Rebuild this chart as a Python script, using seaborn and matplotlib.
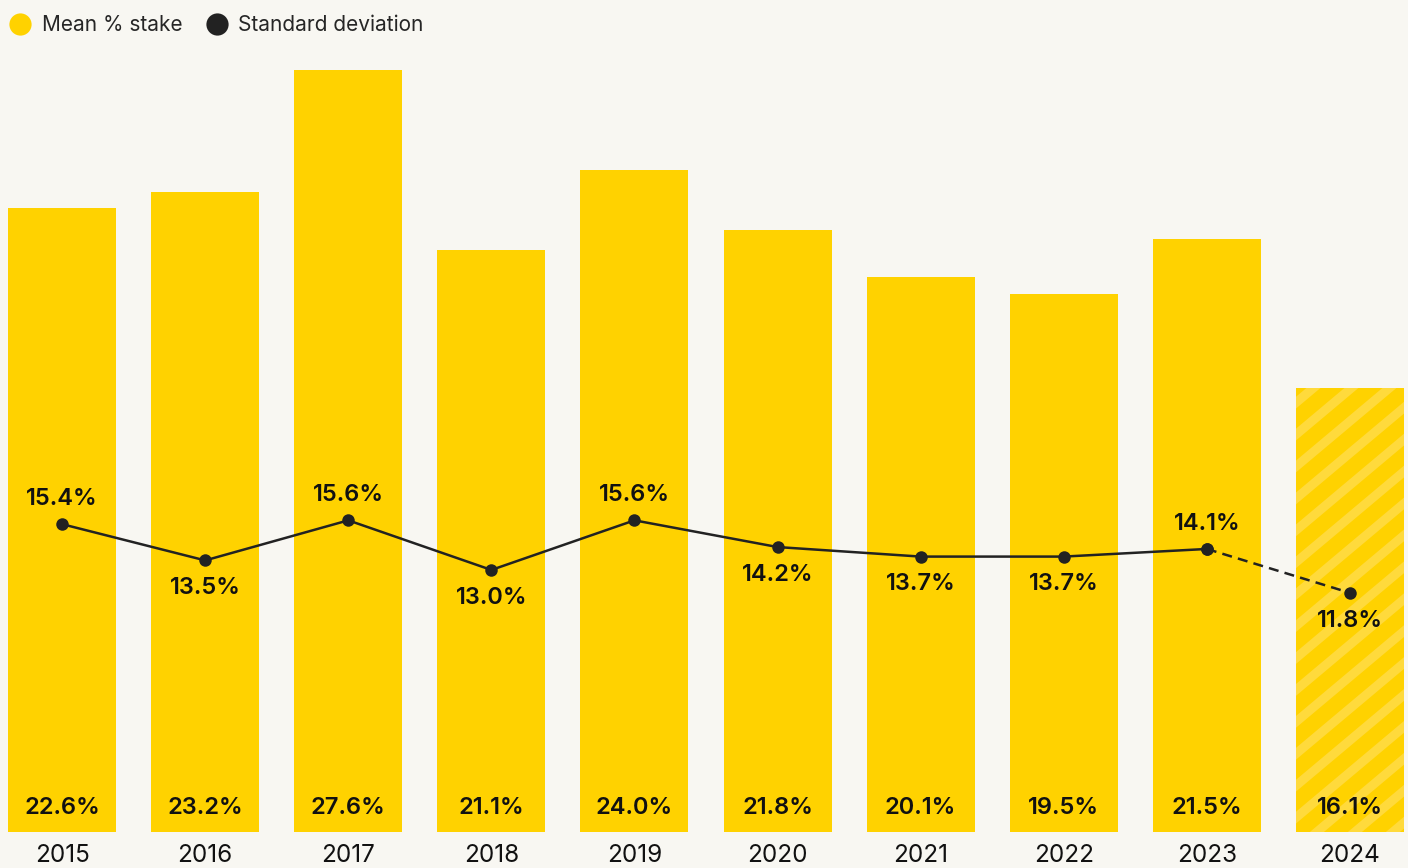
import numpy as np
import pandas as pd
import matplotlib
matplotlib.use("Agg")
import matplotlib.pyplot as plt
from matplotlib.lines import Line2D
from matplotlib.transforms import IdentityTransform
import seaborn as sns

years = ["2015", "2016", "2017", "2018", "2019", "2020", "2021", "2022", "2023", "2024"]
mean_stake = [22.6, 23.2, 27.6, 21.1, 24.0, 21.8, 20.1, 19.5, 21.5, 16.1]
std_dev = [15.4, 13.5, 15.6, 13.0, 15.6, 14.2, 13.7, 13.7, 14.1, 11.8]
label_above = [True, False, True, False, True, False, False, False, True, False]

BG = "#F8F7F2"
YELLOW = "#FFD200"
STRIPE = "#FFDA3C"
DARK = "#222222"

sns.set_theme(style="white")
plt.rcParams["font.family"] = ["Inter", "DejaVu Sans"]

df = pd.DataFrame({"year": years, "mean": mean_stake, "std": std_dev})

fig = plt.figure(figsize=(14.08, 8.68), dpi=100, facecolor=BG)
ax = fig.add_axes([8 / 1408, 36 / 868, 1396 / 1408, 782 / 868])
ax.set_facecolor(BG)

sns.barplot(data=df, x="year", y="mean", order=years, color=YELLOW,
            width=0.755, saturation=1, ax=ax, errorbar=None)
for p in ax.patches:
    p.set_linewidth(0)
    p.set_edgecolor(YELLOW)

ax.set_xlim(-0.378, 9.378)
ax.set_ylim(0, 28.33)

# diagonal stripes on the provisional (last) bar, clipped to the bar
last_bar = ax.patches[len(years) - 1]
for c in np.arange(-1500, 1500, 38):
    ln = Line2D([c, c + 2000], [0, 2000 * 0.84], transform=IdentityTransform(),
                color=STRIPE, linewidth=6.5, solid_capstyle="butt", zorder=2.5)
    ax.add_line(ln)
    ln.set_clip_path(last_bar)

for s in ax.spines.values():
    s.set_visible(False)
ax.set_yticks([])
ax.set_xlabel("")
ax.set_ylabel("")
ax.tick_params(axis="x", length=0, pad=9, labelsize=17.5, labelcolor="#111111")

for i, v in enumerate(mean_stake):
    ax.annotate(f"{v:.1f}%", (i, 0), xytext=(0, 17), textcoords="offset points",
                ha="center", va="center", fontsize=17, fontweight="semibold",
                color="#111111", zorder=5)

ax2 = ax.twinx()
ax2.set_ylim(-0.734, 40.25)
ax2.set_yticks([])
for s in ax2.spines.values():
    s.set_visible(False)

xs = np.arange(len(years))
sns.lineplot(x=xs[:9], y=std_dev[:9], ax=ax2, color=DARK, linewidth=1.8,
             marker="o", markersize=9, markeredgewidth=0)
sns.lineplot(x=xs[8:], y=std_dev[8:], ax=ax2, color=DARK, linewidth=1.8,
             linestyle=(0, (4, 2.5)), marker="o", markersize=9, markeredgewidth=0)
ax2.set_ylabel("")

for i, v in enumerate(std_dev):
    off = 18 if label_above[i] else -20
    ax2.annotate(f"{v:.1f}%", (i, v), xytext=(0, off), textcoords="offset points",
                 ha="center", va="center", fontsize=17, fontweight="semibold",
                 color="#111111")

handles = [
    Line2D([], [], marker="o", linestyle="none", markersize=16, color=YELLOW, markeredgewidth=0),
    Line2D([], [], marker="o", linestyle="none", markersize=16, color=DARK, markeredgewidth=0),
]
fig.legend(handles, ["Mean % stake", "Standard deviation"], loc="upper left",
           bbox_to_anchor=(-0.0065, 1.004), ncol=2, frameon=False, fontsize=15,
           handletextpad=0.54, columnspacing=1.15, handlelength=1.0)

fig.savefig("out.png", dpi=100, facecolor=BG)
